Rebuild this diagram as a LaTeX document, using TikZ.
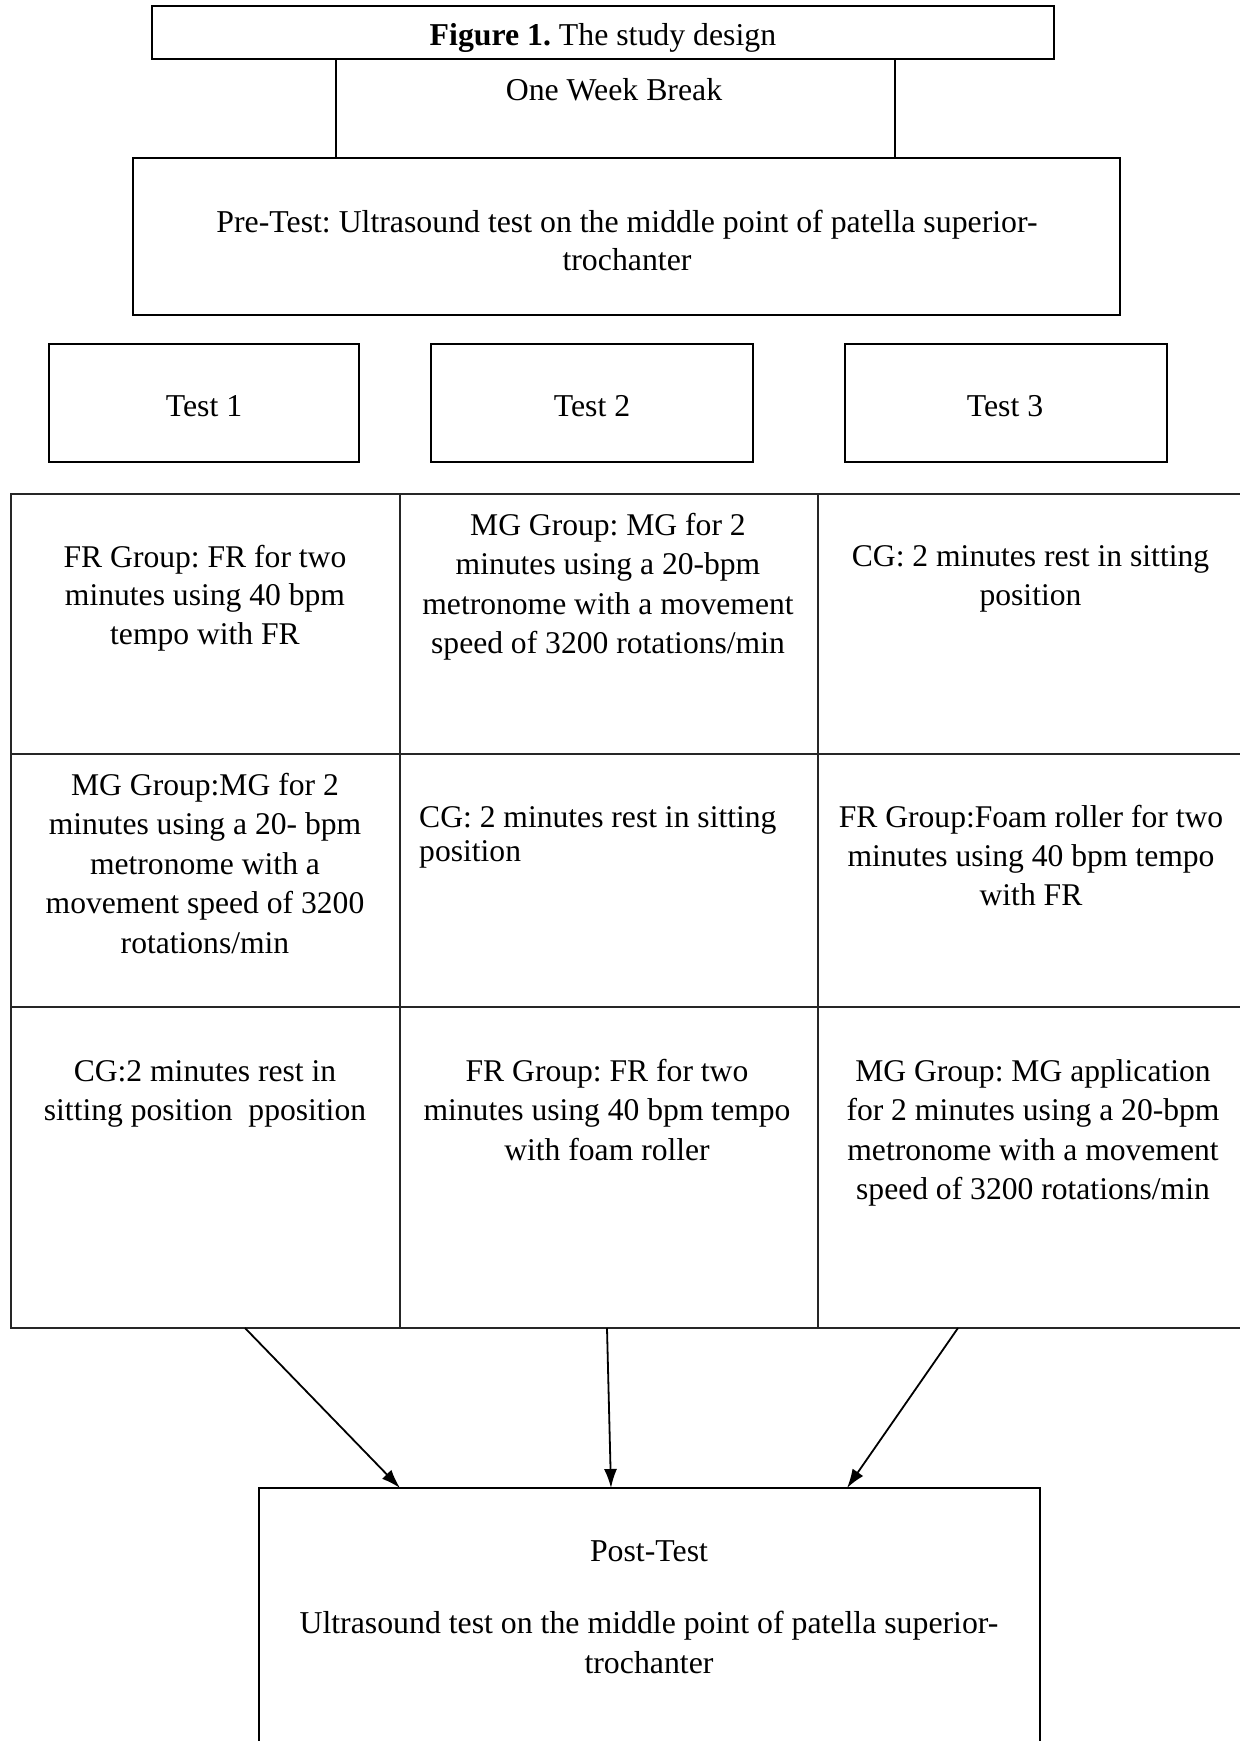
\documentclass[tikz,border=0pt]{standalone}
\usepackage{fontspec}
\setmainfont{Liberation Serif}
\usetikzlibrary{arrows.meta}
\frenchspacing
\newcommand{\mlc}[1]{\begin{tabular}[t]{@{}c@{}}#1\end{tabular}}
\newcommand{\mll}[1]{\begin{tabular}[t]{@{}l@{}}#1\end{tabular}}
\begin{document}
\begin{tikzpicture}[x=1pt,y=-1pt,
  box/.style={draw=black,line width=1.1pt,inner sep=0pt,outer sep=0pt},
  cellbox/.style={draw=black!85,line width=1.4pt,inner sep=0pt,outer sep=0pt},
  hdr/.style={inner sep=0pt,anchor=base,font=\fontsize{31.8}{38.5}\selectfont},
  ctxt/.style={inner sep=0pt,anchor=base,font=\fontsize{31.6}{39.5}\selectfont},
  arr/.style={line width=1.8pt,-{Latex[length=19pt,width=13pt]}}]
\useasboundingbox (0,0) rectangle (1240,1741);
% title
\node[box,minimum width=902pt,minimum height=53pt] (title) at (603,32.5) {};
\node[hdr] (titletxt) at (603,45) {\textbf{Figure 1.} The study design};
% one week break (sides only)
\node[inner sep=0pt,outer sep=0pt,minimum width=559pt,minimum height=99pt] (week) at (615.5,108.5) {};
\draw[line width=1.1pt] (week.north west) -- (week.south west);
\draw[line width=1.1pt] (week.north east) -- (week.south east);
\node[hdr] (weektxt) at (614,100) {One Week Break};
% pre-test
\node[box,minimum width=987pt,minimum height=157pt] (pre) at (626.5,236.5) {};
\node[hdr] (pretxt) at (627,232) {\mlc{Pre-Test: Ultrasound test on the middle point of patella superior-\\trochanter}};
% tests
\node[box,minimum width=310pt,minimum height=118pt] (t1) at (204,403) {};
\node[box,minimum width=322pt,minimum height=118pt] (t2) at (592,403) {};
\node[box,minimum width=322pt,minimum height=118pt] (t3) at (1006,403) {};
\node[hdr] (t1txt) at (204,416) {Test 1};
\node[hdr] (t2txt) at (592,416) {Test 2};
\node[hdr] (t3txt) at (1005,416) {Test 3};
% table cells
\node[cellbox,minimum width=389pt,minimum height=260pt] (c11) at (205.5,624) {};
\node[cellbox,minimum width=418pt,minimum height=260pt] (c12) at (609,624) {};
\node[cellbox,minimum width=428pt,minimum height=260pt] (c13) at (1032,624) {};
\node[cellbox,minimum width=389pt,minimum height=253pt] (c21) at (205.5,880.5) {};
\node[cellbox,minimum width=418pt,minimum height=253pt] (c22) at (609,880.5) {};
\node[cellbox,minimum width=428pt,minimum height=253pt] (c23) at (1032,880.5) {};
\node[cellbox,minimum width=389pt,minimum height=321pt] (c31) at (205.5,1167.5) {};
\node[cellbox,minimum width=418pt,minimum height=321pt] (c32) at (609,1167.5) {};
\node[cellbox,minimum width=428pt,minimum height=321pt] (c33) at (1032,1167.5) {};
% cell texts
\node[ctxt,font=\fontsize{31.6}{38.5}\selectfont] (x11) at (205,567) {\mlc{FR Group: FR for two\\minutes using 40 bpm\\tempo with FR}};
\node[ctxt] (x12) at (608,535) {\mlc{MG Group: MG for 2\\minutes using a 20-bpm\\metronome with a movement\\speed of 3200 rotations/min}};
\node[ctxt] (x13) at (1030.5,566) {\mlc{CG: 2 minutes rest in sitting\\position}};
\node[ctxt] (x21) at (205,795) {\mlc{MG Group:MG for 2\\minutes using a 20- bpm\\metronome with a\\movement speed of 3200\\rotations/min}};
\node[ctxt,anchor=base west,font=\fontsize{31.6}{34.5}\selectfont] (x22) at (419,827) {\mll{CG: 2 minutes rest in sitting\\position}};
\node[ctxt,font=\fontsize{31.6}{39}\selectfont] (x23) at (1031,827) {\mlc{FR Group:Foam roller for two\\minutes using 40 bpm tempo\\with FR}};
\node[ctxt,font=\fontsize{31.6}{39}\selectfont] (x31) at (205,1081) {\mlc{CG:2 minutes rest in\\sitting position\ \ pposition}};
\node[ctxt] (x32) at (607,1081) {\mlc{FR Group: FR for two\\minutes using 40 bpm tempo\\with foam roller}};
\node[ctxt] (x33) at (1033,1081) {\mlc{MG Group: MG application\\for 2 minutes using a 20-bpm\\metronome with a movement\\speed of 3200 rotations/min}};
% post-test
\node[box,minimum width=781pt,minimum height=262pt] (post) at (649.5,1619) {};
\node[hdr] (posttxt) at (649,1561) {Post-Test};
\node[hdr,font=\fontsize{31.8}{40}\selectfont] (postdesc) at (649,1633) {\mlc{Ultrasound test on the middle point of patella superior-\\trochanter}};
% arrows
\coordinate (s1) at (245,1328);
\coordinate (s2) at (607,1328);
\coordinate (s3) at (958,1328);
\coordinate (e1) at (400,1488);
\coordinate (e2) at (611,1488);
\coordinate (e3) at (847,1488);
\draw[arr] (s1) -- (e1);
\draw[arr] (s2) -- (e2);
\draw[arr] (s3) -- (e3);
\end{tikzpicture}
\end{document}
